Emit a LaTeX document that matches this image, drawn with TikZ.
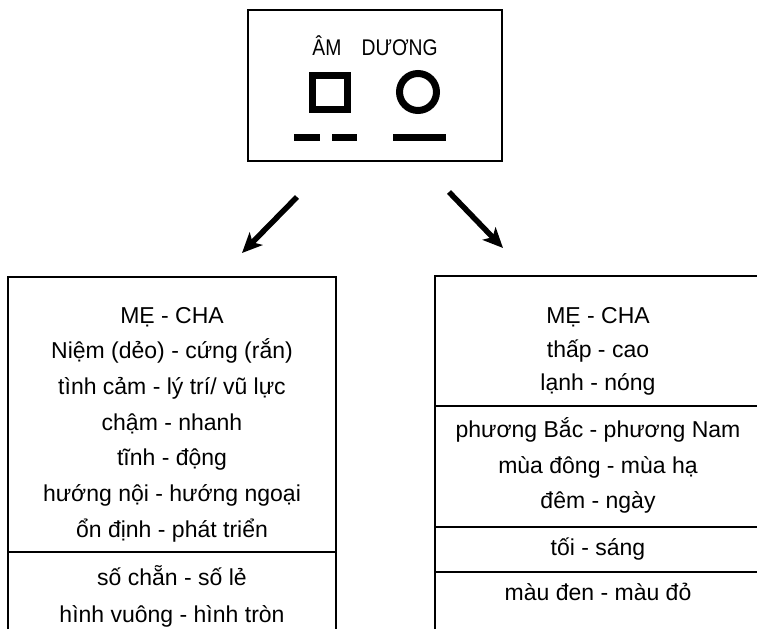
\documentclass[tikz,border=0pt]{standalone}
\usepackage{fontspec}
\setmainfont{Liberation Sans}
\usetikzlibrary{arrows.meta}
\begin{document}
\begin{tikzpicture}[x=1pt,y=-1pt,
  frame/.style={line width=1.8pt},
  sym/.style={line width=7pt},
  bigarrow/.style={line width=5.5pt,-{Stealth[length=20pt,width=18pt,inset=5pt]}},
  txt/.style={anchor=base,inner sep=0pt,font=\fontsize{23}{27}\selectfont},
  ttl/.style={anchor=base,inner sep=0pt,font=\fontsize{21}{25}\selectfont}]
\useasboundingbox (0,0) rectangle (757,629);
% top box
\node[frame,draw,rectangle,minimum width=254pt,minimum height=151pt,inner sep=0pt] (top) at (375,85.5) {};
\node[ttl] (title) at (375,55) {\scalebox{0.92}[1.08]{ÂM\hspace{22pt}DƯƠNG}};
\node[sym,draw,rectangle,minimum width=35pt,minimum height=34pt,inner sep=0pt] (sq) at (330,92.5) {};
\node[sym,draw,circle,minimum size=37pt,inner sep=0pt] (ci) at (418,92) {};
\coordinate (d1a) at (294,137); \coordinate (d1b) at (320,137);
\coordinate (d2a) at (332,137); \coordinate (d2b) at (357,137);
\coordinate (d3a) at (393,137); \coordinate (d3b) at (446,137);
\draw[line width=7pt] (d1a) -- (d1b);
\draw[line width=7pt] (d2a) -- (d2b);
\draw[line width=7pt] (d3a) -- (d3b);
% arrows
\coordinate (la) at (297,197); \coordinate (lb) at (242,253);
\coordinate (ra) at (449,192); \coordinate (rb) at (503,248);
\draw[bigarrow] (la) -- (lb);
\draw[bigarrow] (ra) -- (rb);
% left box
\coordinate (L1) at (8,629); \coordinate (L2) at (8,277);
\coordinate (L3) at (336,277); \coordinate (L4) at (336,629);
\coordinate (Ld1) at (8,552); \coordinate (Ld2) at (336,552);
\draw[frame] (L1) -- (L2) -- (L3) -- (L4);
\draw[frame] (Ld1) -- (Ld2);
\node[txt] (l1) at (172,323) {MẸ - CHA};
\node[txt] (l2) at (172,358.7) {Niệm (dẻo) - cứng (rắn)};
\node[txt] (l3) at (172,394.4) {tình cảm - lý trí/ vũ lực};
\node[txt] (l4) at (172,430) {chậm - nhanh};
\node[txt] (l5) at (172,465.8) {tĩnh - động};
\node[txt] (l6) at (172,501.5) {hướng nội - hướng ngoại};
\node[txt] (l7) at (172,537) {ổn định - phát triển};
\node[txt] (l8) at (172,585) {số chẵn - số lẻ};
\node[txt] (l9) at (172,622) {hình vuông - hình tròn};
% right box
\coordinate (R1) at (435,629); \coordinate (R2) at (435,276);
\coordinate (R3) at (757,276);
\coordinate (Ra1) at (435,406); \coordinate (Ra2) at (757,406);
\coordinate (Rb1) at (435,527); \coordinate (Rb2) at (757,527);
\coordinate (Rc1) at (435,572); \coordinate (Rc2) at (757,572);
\draw[frame] (R1) -- (R2) -- (R3);
\draw[frame] (Ra1) -- (Ra2);
\draw[frame] (Rb1) -- (Rb2);
\draw[frame] (Rc1) -- (Rc2);
\node[txt] (r1) at (598,323) {MẸ - CHA};
\node[txt] (r2) at (598,357) {thấp - cao};
\node[txt] (r3) at (598,390) {lạnh - nóng};
\node[txt] (r4) at (598,437) {phương Bắc - phương Nam};
\node[txt] (r5) at (598,473) {mùa đông - mùa hạ};
\node[txt] (r6) at (598,508) {đêm - ngày};
\node[txt] (r7) at (598,555) {tối - sáng};
\node[txt] (r8) at (598,600) {màu đen - màu đỏ};
\end{tikzpicture}
\end{document}
